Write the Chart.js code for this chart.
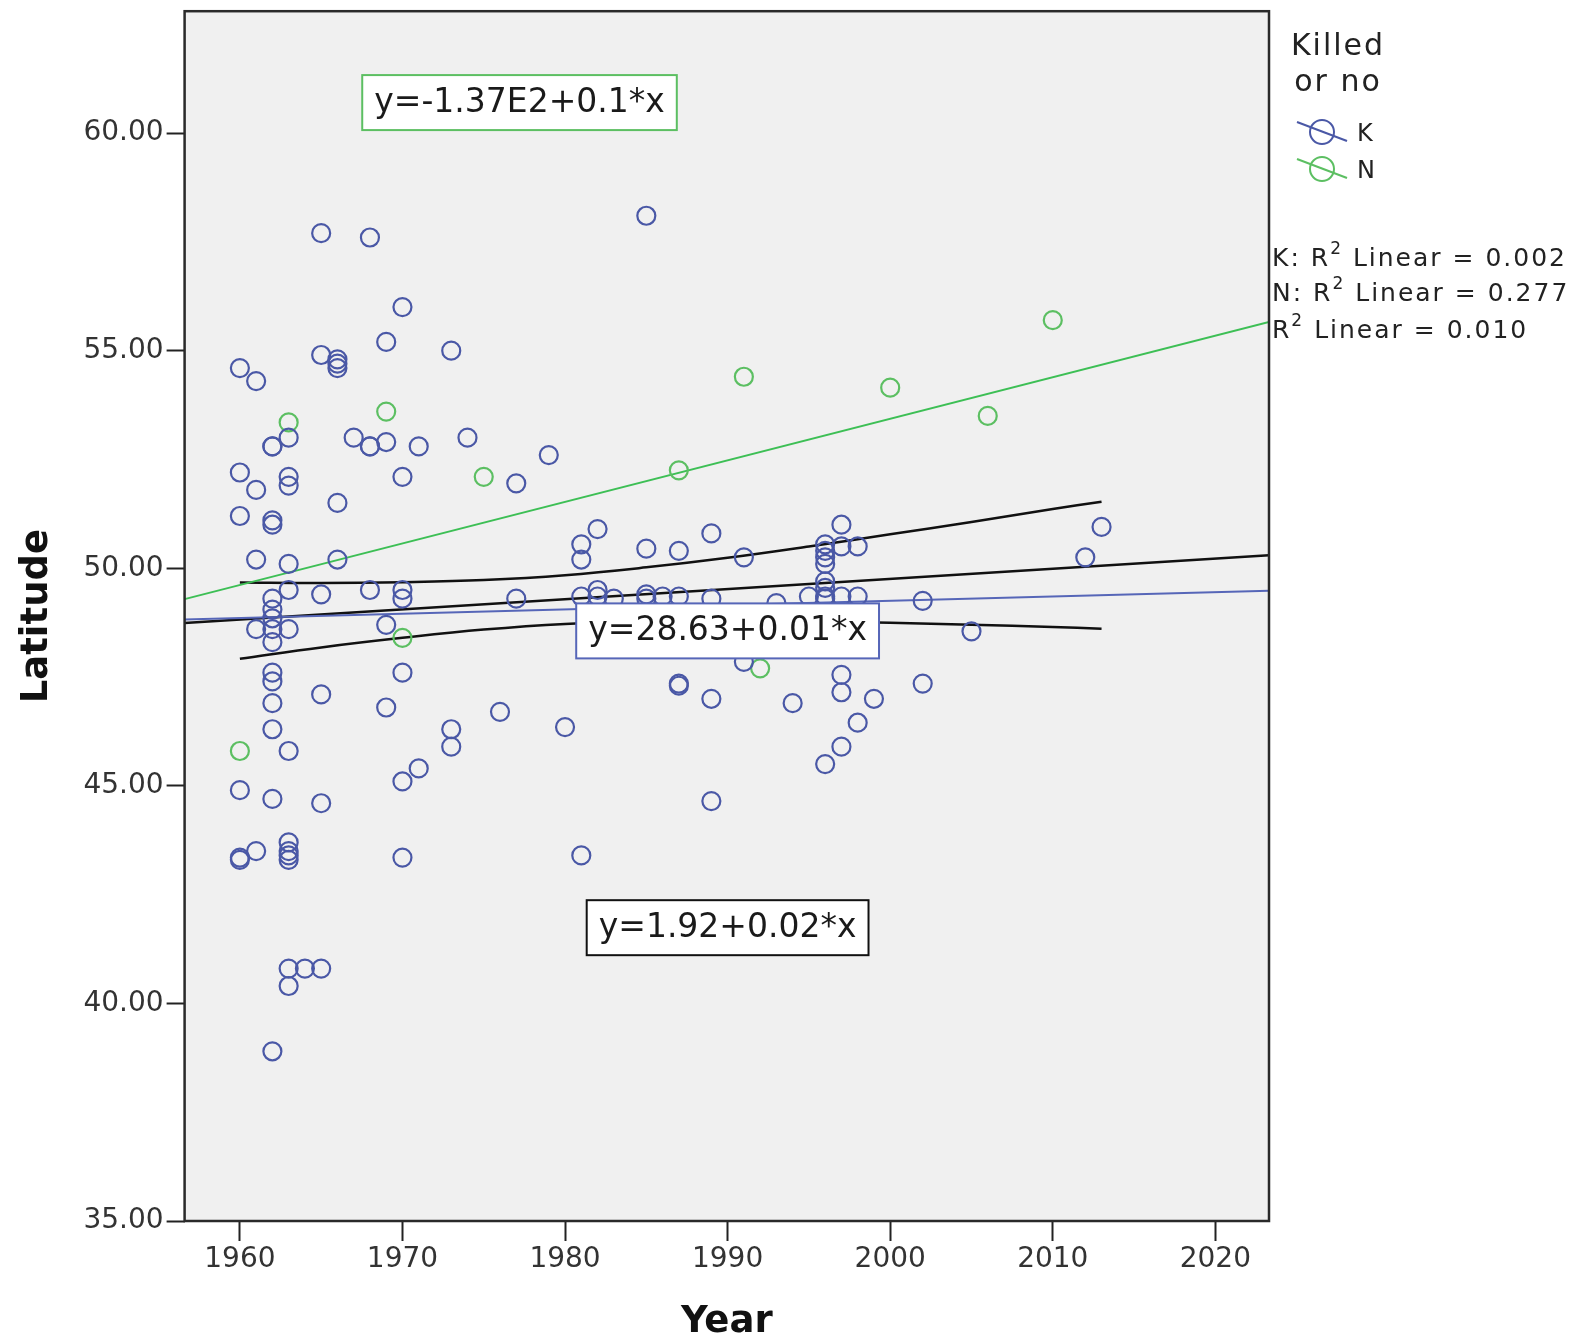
<!DOCTYPE html>
<html>
<head>
<meta charset="utf-8">
<title>Latitude by Year</title>
<script src="https://cdn.jsdelivr.net/npm/chart.js@4.4.1/dist/chart.umd.min.js"></script>
<style>
  html, body { margin: 0; padding: 0; background: #fff; }
</style>
</head>
<body>
<canvas id="latChart" width="1582" height="1341"></canvas>
<script>
// axis ranges and ticks
var xMin = 1956.6, xMax = 2023.3;
var yMin = 35, yMax = 62.8;
var xTicks = [1960, 1970, 1980, 1990, 2000, 2010, 2020];
var yTicks = [35, 40, 45, 50, 55, 60];

// K (killed) points, one line per year
var kYears = [
  1960, 1960, 1960, 1960, 1960, 1960,
  1961, 1961, 1961, 1961, 1961,
  1962, 1962, 1962, 1962, 1962, 1962, 1962, 1962, 1962, 1962, 1962, 1962, 1962, 1962, 1962,
  1963, 1963, 1963, 1963, 1963, 1963, 1963, 1963, 1963, 1963, 1963, 1963, 1963,
  1964,
  1965, 1965, 1965, 1965, 1965, 1965,
  1966, 1966, 1966, 1966, 1966,
  1967,
  1968, 1968, 1968, 1968,
  1969, 1969, 1969, 1969,
  1970, 1970, 1970, 1970, 1970, 1970, 1970,
  1971, 1971,
  1973, 1973, 1973,
  1974,
  1976,
  1977, 1977,
  1979,
  1980,
  1981, 1981, 1981, 1981,
  1982, 1982, 1982,
  1983,
  1985, 1985, 1985, 1985,
  1986,
  1987, 1987, 1987, 1987,
  1989, 1989, 1989, 1989,
  1991, 1991,
  1993,
  1994,
  1995,
  1996, 1996, 1996, 1996, 1996, 1996, 1996, 1996, 1996,
  1997, 1997, 1997, 1997, 1997, 1997,
  1998, 1998, 1998,
  1999,
  2002, 2002,
  2005,
  2012,
  2013
];
var kLat = [
  54.6, 52.2, 51.2, 44.9, 43.35, 43.3,
  54.3, 51.8, 50.2, 48.6, 43.5,
  52.8, 52.8, 51.1, 51.0, 49.3, 49.05, 48.85, 48.6, 48.3, 47.6, 47.4, 46.9, 46.3, 44.7, 38.9,
  53.0, 52.1, 51.9, 50.1, 49.5, 48.6, 45.8, 43.7, 43.5, 43.4, 43.3, 40.8, 40.4,
  40.8,
  57.7, 54.9, 49.4, 47.1, 44.6, 40.8,
  54.8, 54.7, 54.6, 51.5, 50.2,
  53.0,
  57.6, 52.8, 52.8, 49.5,
  55.2, 52.9, 48.7, 46.8,
  56.0, 52.1, 49.5, 49.3, 47.6, 45.1, 43.35,
  52.8, 45.4,
  55.0, 46.3, 45.9,
  53.0,
  46.7,
  51.95, 49.3,
  52.6,
  46.35,
  50.55, 50.2, 49.35, 43.4,
  50.9, 49.5, 49.35,
  49.3,
  58.1, 50.45, 49.4, 49.3,
  49.35,
  50.4, 49.35, 47.35, 47.3,
  50.8, 49.3, 47.0, 44.65,
  50.25, 47.85,
  49.2,
  46.9,
  49.35,
  50.55, 50.4, 50.25, 50.1, 49.7, 49.55, 49.35, 49.3, 45.5,
  51.0, 50.5, 49.35, 47.55, 47.15, 45.9,
  50.5, 49.35, 46.45,
  47.0,
  49.25, 47.35,
  48.55,
  50.25,
  50.95
];

// N points
var nYears = [1960, 1963, 1969, 1970, 1975, 1987, 1991, 1992, 2000, 2006, 2010];
var nLat = [45.8, 53.35, 53.6, 48.4, 52.1, 52.25, 54.4, 47.7, 54.15, 53.5, 55.7];

// fit lines (values at the left and right edge of the x axis)
var fitYears = [xMin, xMax];
var kFit = [48.82, 49.48];
var nFit = [49.29, 55.66];
var allFit = [48.74, 50.30];

// confidence band around the total fit
var bandYears = [1960, 1965, 1970, 1975, 1980, 1985, 1990, 1995, 2000, 2005, 2010, 2013];
var bandUpper = [49.67, 49.66, 49.68, 49.73, 49.84, 50.02, 50.24, 50.50, 50.78, 51.06, 51.36, 51.53];
var bandLower = [47.92, 48.18, 48.40, 48.59, 48.72, 48.78, 48.80, 48.78, 48.75, 48.70, 48.65, 48.61];

// equation labels, anchored in data units
var eqText = ['y=-1.37E2+0.1*x', 'y=28.63+0.01*x', 'y=1.92+0.02*x'];
var eqYear = [1977.2, 1990.0, 1990.0];
var eqLat = [60.7, 48.56, 41.74];

var groupNames = ['K', 'N'];
var rsqPrefix = ['K: R', 'N: R', 'R'];
var rsqValue = ['0.002', '0.277', '0.010'];

var BLUE = '#4a58a6';
var GREEN = '#5cbf62';
var BLUE_LINE = '#5666b8';
var GREEN_LINE = '#3dbf55';
var FONT = '"DejaVu Sans", sans-serif';

function pairs(xs, ys) {
    return xs.map(function (x, i) { return { x: x, y: ys[i] }; });
}

// no extra room for half tick labels, the plot area is placed by hand
function noLabelPadding(s) {
    s.paddingTop = 0;
    s.paddingBottom = 0;
    s.paddingLeft = 0;
    s.paddingRight = 0;
}

var spssExtras = {
    id: 'spssExtras',
    beforeDraw: function (chart) {
        var a = chart.chartArea, ctx = chart.ctx;
        ctx.save();
        ctx.fillStyle = '#f0f0f0';
        ctx.fillRect(a.left, a.top, a.right - a.left, a.bottom - a.top);
        ctx.restore();
    },
    afterDatasetsDraw: function (chart) {
        var a = chart.chartArea, ctx = chart.ctx;
        var xs = chart.scales.x, ys = chart.scales.y;
        var boxColors = [GREEN, BLUE_LINE, '#111'];
        ctx.save();
        ctx.font = '33px ' + FONT;
        ctx.textAlign = 'center';
        ctx.textBaseline = 'middle';
        eqText.forEach(function (t, i) {
            var cx = xs.getPixelForValue(eqYear[i]);
            var cy = ys.getPixelForValue(eqLat[i]);
            var w = ctx.measureText(t).width + 24;
            var h = 55;
            ctx.fillStyle = '#fff';
            ctx.fillRect(cx - w / 2, cy - h / 2, w, h);
            ctx.strokeStyle = boxColors[i];
            ctx.lineWidth = 2;
            ctx.strokeRect(cx - w / 2, cy - h / 2, w, h);
            ctx.fillStyle = '#1a1a1a';
            ctx.fillText(t, cx, cy + 1);
        });
        // plot frame
        ctx.strokeStyle = '#2a2a2a';
        ctx.lineWidth = 2.5;
        ctx.strokeRect(a.left, a.top, a.right - a.left, a.bottom - a.top);
        ctx.restore();
    },
    afterDraw: function (chart) {
        var a = chart.chartArea, ctx = chart.ctx;
        var lx = a.right;
        ctx.save();
        ctx.fillStyle = '#222';
        ctx.textBaseline = 'middle';
        // legend title
        ctx.textAlign = 'center';
        ctx.font = '30px ' + FONT;
        ctx.letterSpacing = '2px';
        ctx.fillText('Killed', lx + 69, 47);
        ctx.fillText('or no', lx + 69, 83);
        ctx.letterSpacing = '0px';
        // legend items
        var symColors = [BLUE, GREEN];
        groupNames.forEach(function (g, i) {
            var cy = 132 + i * 37;
            ctx.strokeStyle = symColors[i];
            ctx.lineWidth = 2;
            ctx.beginPath();
            ctx.arc(lx + 53, cy, 12, 0, Math.PI * 2);
            ctx.stroke();
            ctx.beginPath();
            ctx.moveTo(lx + 28, cy - 10);
            ctx.lineTo(lx + 78, cy + 9);
            ctx.stroke();
            ctx.fillStyle = '#222';
            ctx.textAlign = 'left';
            ctx.font = '24px ' + FONT;
            ctx.fillText(g, lx + 88, cy + 3);
        });
        // R squared notes
        var ry = [259, 294, 331];
        rsqPrefix.forEach(function (p, i) {
            var x = lx + 3;
            ctx.textAlign = 'left';
            ctx.letterSpacing = '2px';
            ctx.font = '25px ' + FONT;
            ctx.fillText(p, x, ry[i]);
            x += ctx.measureText(p).width;
            ctx.font = '17px ' + FONT;
            ctx.fillText('2', x, ry[i] - 9);
            x += ctx.measureText('2').width;
            ctx.font = '25px ' + FONT;
            ctx.fillText(' Linear = ' + rsqValue[i], x, ry[i]);
            ctx.letterSpacing = '0px';
        });
        ctx.restore();
    }
};

var ctx = document.getElementById('latChart').getContext('2d');

var latChart = new Chart(ctx, {
    type: 'scatter',
    data: {
        datasets: [
            {
                label: 'K',
                data: pairs(kYears, kLat),
                borderColor: BLUE,
                backgroundColor: 'rgba(0,0,0,0)',
                borderWidth: 2.2,
                pointRadius: 9
            },
            {
                label: 'N',
                data: pairs(nYears, nLat),
                borderColor: GREEN,
                backgroundColor: 'rgba(0,0,0,0)',
                borderWidth: 2.2,
                pointRadius: 9
            },
            {
                label: 'K fit',
                data: pairs(fitYears, kFit),
                showLine: true,
                borderColor: BLUE_LINE,
                borderWidth: 2,
                pointRadius: 0
            },
            {
                label: 'N fit',
                data: pairs(fitYears, nFit),
                showLine: true,
                borderColor: GREEN_LINE,
                borderWidth: 2,
                pointRadius: 0
            },
            {
                label: 'Total fit',
                data: pairs(fitYears, allFit),
                showLine: true,
                borderColor: '#111',
                borderWidth: 2.5,
                pointRadius: 0
            },
            {
                label: 'Upper',
                data: pairs(bandYears, bandUpper),
                showLine: true,
                tension: 0.4,
                borderColor: '#111',
                borderWidth: 2.5,
                pointRadius: 0
            },
            {
                label: 'Lower',
                data: pairs(bandYears, bandLower),
                showLine: true,
                tension: 0.4,
                borderColor: '#111',
                borderWidth: 2.5,
                pointRadius: 0
            }
        ]
    },
    options: {
        responsive: false,
        animation: false,
        events: [],
        layout: { padding: { left: 0, right: 313, top: 8, bottom: 0 } },
        scales: {
            x: {
                type: 'linear',
                min: xMin,
                max: xMax,
                afterBuildTicks: function (s) { s.ticks = xTicks.map(function (v) { return { value: v }; }); },
                afterFit: function (s) { s.height = 120; noLabelPadding(s); },
                border: { display: false },
                grid: { drawOnChartArea: false, drawTicks: true, tickLength: 20, tickWidth: 2, tickColor: '#222' },
                ticks: {
                    font: { family: FONT, size: 28 },
                    color: '#333',
                    padding: 2,
                    maxRotation: 0,
                    callback: function (v) { return String(v); }
                },
                title: {
                    display: true,
                    text: 'Year',
                    font: { family: FONT, size: 37, weight: 'bold', lineHeight: 1 },
                    color: '#111',
                    padding: { top: 0, bottom: 0 }
                }
            },
            y: {
                type: 'linear',
                min: yMin,
                max: yMax,
                afterBuildTicks: function (s) { s.ticks = yTicks.map(function (v) { return { value: v }; }); },
                afterFit: function (s) { s.width = 184.6; noLabelPadding(s); },
                border: { display: false },
                grid: { drawOnChartArea: false, drawTicks: true, tickLength: 18, tickWidth: 2, tickColor: '#222' },
                ticks: {
                    font: { family: FONT, size: 28 },
                    color: '#333',
                    padding: 3,
                    callback: function (v) { return v.toFixed(2); }
                },
                title: {
                    display: true,
                    text: 'Latitude',
                    font: { family: FONT, size: 37, weight: 'bold' },
                    color: '#111',
                    padding: { top: 15, bottom: 0 }
                }
            }
        },
        plugins: {
            legend: { display: false },
            tooltip: { enabled: false }
        }
    },
    plugins: [spssExtras]
});
</script>
</body>
</html>
